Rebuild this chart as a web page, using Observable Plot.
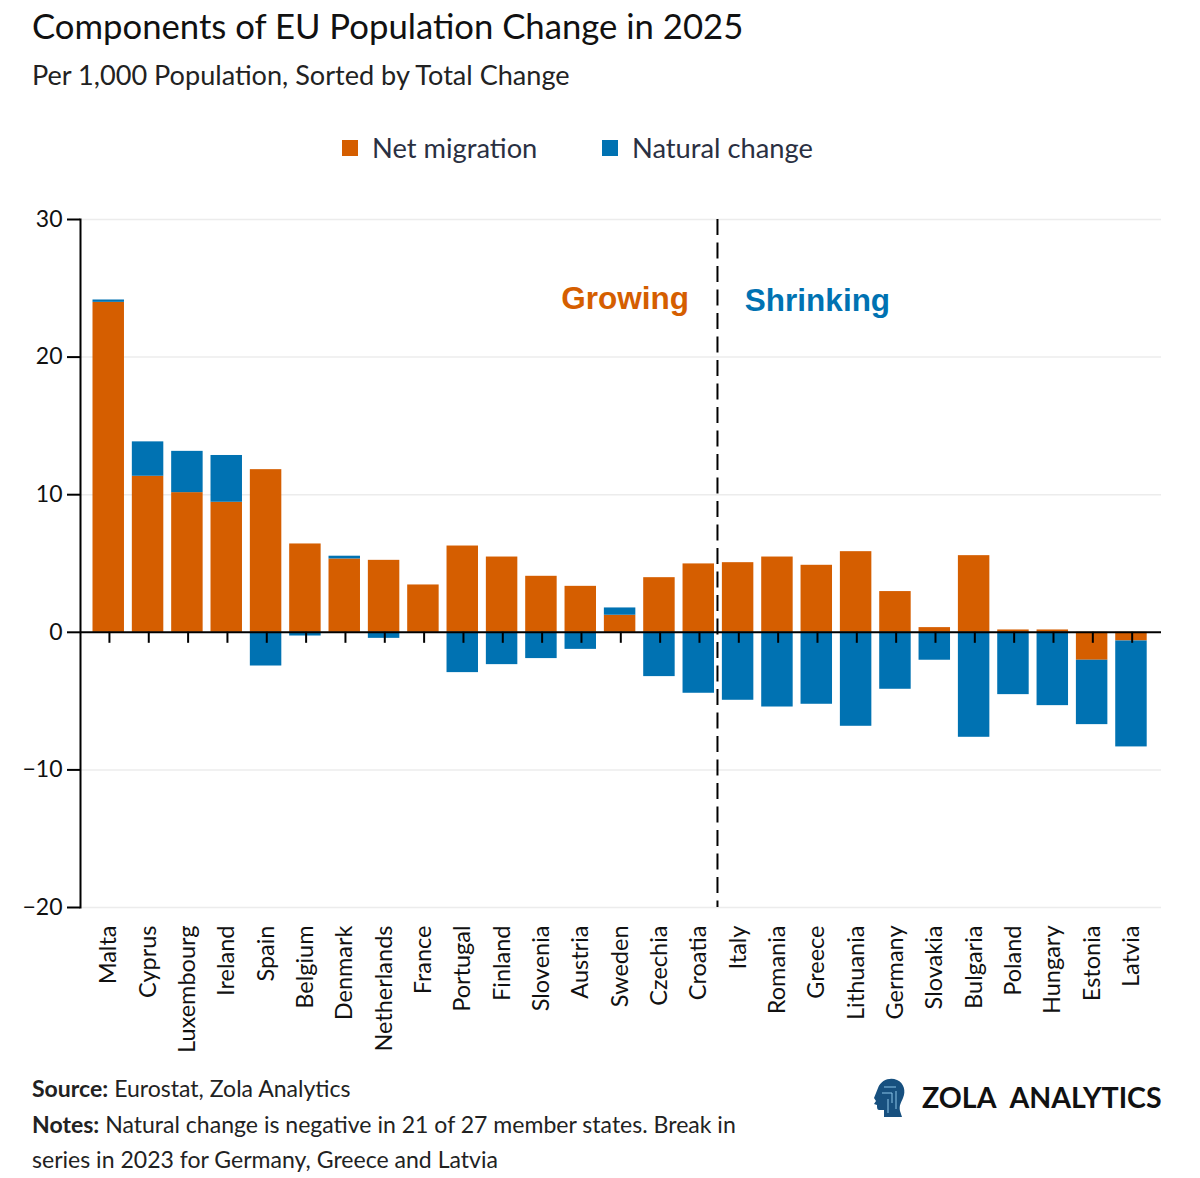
<!DOCTYPE html>
<html>
<head>
<meta charset="utf-8">
<script src="https://cdn.jsdelivr.net/npm/d3@7"></script>
<script src="https://cdn.jsdelivr.net/npm/@observablehq/plot@0.6"></script>
<style>
  html, body { margin: 0; padding: 0; background: #fff; }
  body { width: 1200px; height: 1178px; overflow: hidden; font-family: Lato, sans-serif; color: #111; position: relative; }
  header { height: 200px; position: relative; }
  h1 { position: absolute; left: 32px; top: 5px; margin: 0; font-size: 34.7px; font-weight: 400; line-height: 42px; white-space: nowrap; color: #111; }
  h2 { position: absolute; left: 32px; top: 58px; margin: 0; font-size: 27.1px; font-weight: 400; line-height: 34px; white-space: nowrap; color: #222; }
  .legend { position: absolute; top: 131px; left: 0; font-size: 27.3px; line-height: 34px; color: #2a3042; }
  .legend span { position: absolute; white-space: nowrap; }
  .legend i { position: absolute; top: 9px; width: 16px; height: 16px; }
  #chart { height: 860px; }
  #chart svg { display: block; }
  footer { position: relative; height: 118px; }
  .notes { position: absolute; left: 32px; top: 11px; font-size: 23.05px; line-height: 35.5px; width: 780px; color: #222; white-space: nowrap; }
  .brand { position: absolute; left: 922px; top: 19px; font-size: 28.5px; line-height: 36px; font-weight: 700; color: #111; white-space: nowrap; word-spacing: 8px; }
  .logo { position: absolute; left: 870px; top: 17px; }
</style>
</head>
<body>
<header>
  <h1>Components of EU Population Change in 2025</h1>
  <h2>Per 1,000 Population, Sorted by Total Change</h2>
  <div class="legend">
    <i style="left:342px;background:#D55E00"></i><span style="left:372px">Net migration</span>
    <i style="left:602px;background:#0072B2"></i><span style="left:632px">Natural change</span>
  </div>
</header>
<div id="chart"></div>
<footer>
  <div class="notes"><b>Source:</b> Eurostat, Zola Analytics<br><b>Notes:</b> Natural change is negative in 21 of 27 member states. Break in<br>series in 2023 for Germany, Greece and Latvia</div>
  <svg class="logo" width="38" height="44" viewBox="0 0 38 44"><path d="M4 21 L8 11 C11 3 20 0 27 3 C34 6 36 14 33 21 C31 26 29 28 30 34 L32 40 L14 40 L14 33 L9 33 C7 33 7 30 7 28 L4 27 L6 24 Z" fill="#17507f"/><path d="M14 10 H26 M12 16 H22 V26 M26 14 V32 M18 22 V36" stroke="#8cc4e8" stroke-width="1" fill="none"/></svg>
  <div class="brand">ZOLA ANALYTICS</div>
</footer>
<script>
const countries = ["Malta","Cyprus","Luxembourg","Ireland","Spain","Belgium","Denmark","Netherlands","France","Portugal","Finland","Slovenia","Austria","Sweden","Czechia","Croatia","Italy","Romania","Greece","Lithuania","Germany","Slovakia","Bulgaria","Poland","Hungary","Estonia","Latvia"];
const netMigration = [23.98,11.34,10.15,9.45,11.82,6.42,5.33,5.23,3.44,6.27,5.47,4.07,3.34,1.24,3.97,4.97,5.06,5.47,4.87,5.86,2.96,0.34,5.57,0.17,0.17,-2.03,-0.63];
const naturalChange = [0.17,2.5,3.0,3.4,-2.45,-0.27,0.2,-0.44,0,-2.93,-2.35,-1.91,-1.24,0.53,-3.22,-4.43,-4.94,-5.43,-5.23,-6.83,-4.14,-2.03,-7.63,-4.53,-5.33,-4.68,-7.7];
const yTicks = [-20,-10,0,10,20,30];
const gridTicks = [-20,-10,10,20,30];
const seriesNames = ["Net migration","Natural change"];
const seriesColors = ["#D55E00","#0072B2"];

const rows = [];
countries.forEach((c,i) => {
  rows.push({country:c, series:seriesNames[0], value:netMigration[i]});
  rows.push({country:c, series:seriesNames[1], value:naturalChange[i]});
});

const plot = Plot.plot({
  width: 1200, height: 860,
  marginTop: 19, marginBottom: 153, marginLeft: 80, marginRight: 39,
  style: {fontFamily: "Lato, sans-serif", background: "#fff", color: "#111"},
  x: {domain: countries, round: false, paddingInner: 0.2, paddingOuter: 0, insetLeft: 12.5, insetRight: 14.3, label: null},
  y: {domain: [-20,30], label: null},
  color: {domain: seriesNames, range: seriesColors},
  marks: [
    Plot.ruleY(gridTicks, {stroke: "#ececec", strokeWidth: 1.5}),
    Plot.barY(rows, {x:"country", y:"value", fill:"series", order: seriesNames}),
    Plot.ruleY([0], {stroke:"#000", strokeWidth:2}),
    Plot.ruleX(countries, {x:d=>d, y1:0, y2:-0.8, stroke:"#000", strokeWidth:2, dx:0.7}),
    Plot.ruleX(["Croatia"], {x:d=>d, stroke:"#000", strokeWidth:2, strokeDasharray:"16 7.5", dx:18.7}),
    Plot.frame({anchor:"left", stroke:"#000", strokeWidth:2}),
    Plot.axisY(yTicks, {anchor:"left", tickSize:13, tickPadding:5, fontSize:23, label:null, stroke:"#000", strokeWidth:2, color:"#111"}),
    Plot.axisX(countries, {anchor:"bottom", tickSize:0, tickPadding:18, tickRotate:-90, fontSize:23.5, label:null, color:"#111"}),
    Plot.text(["Growing"], {x:()=>"Sweden", y:()=>24.2, text:d=>d, dx:5, fill:"#D55E00", fontFamily:"Liberation Sans", fontWeight:700, fontSize:31.5, textAnchor:"middle"}),
    Plot.text(["Shrinking"], {x:()=>"Greece", y:()=>24.05, text:d=>d, dx:0.7, fill:"#0072B2", fontFamily:"Liberation Sans", fontWeight:700, fontSize:31.5, textAnchor:"middle"})
  ]
});
document.getElementById("chart").appendChild(plot);
</script>
</body>
</html>
